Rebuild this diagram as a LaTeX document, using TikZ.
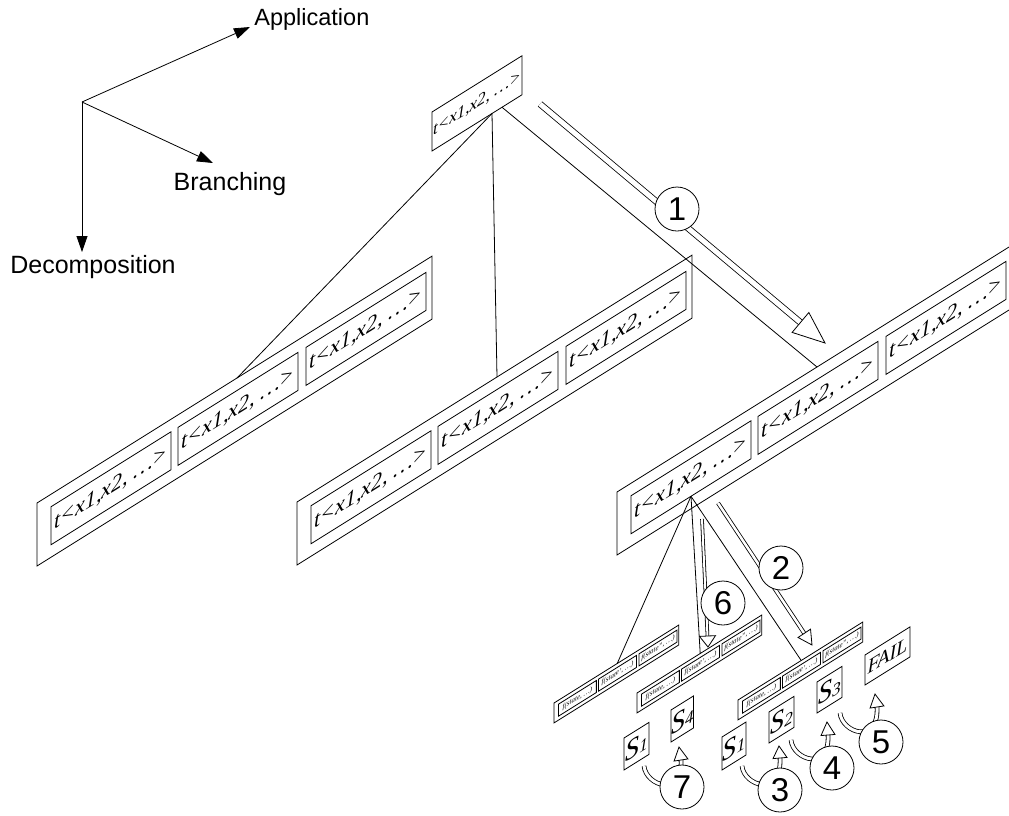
\documentclass[tikz,border=0pt]{standalone}
\usepackage{fontspec}
\setmainfont{Liberation Serif}
\newfontfamily\sansf{Liberation Sans}
\usetikzlibrary{calc,arrows.meta}

% a slanted strip of three cells: name, x, y, scale, font size, three texts
\newcommand\strip[8]{%
  \begin{scope}[shift={(#2,#3)}, scale=#4, yslant=0.625]
    \draw (0,0) rectangle (395,63);
    \node[cell, minimum width=120pt, minimum height=38pt, font=\itshape\fontsize{#5}{#5}\selectfont] (#1-1) at (14,12.5) {#6};
    \node[cell, minimum width=120pt, minimum height=38pt, font=\itshape\fontsize{#5}{#5}\selectfont] (#1-2) at (141,12.5) {#7};
    \node[cell, minimum width=120pt, minimum height=38pt, font=\itshape\fontsize{#5}{#5}\selectfont] (#1-3) at (269,12.5) {#8};
    \coordinate (#1-top) at (200,0);
  \end{scope}}

% a single slanted box: name, x, y, width, height, content
\newcommand\slbox[6]{%
  \begin{scope}[shift={(#2,#3)}, yslant=0.625]
    \node[cell, minimum width=#4pt, minimum height=#5pt] (#1) at (0,0) {#6};
  \end{scope}}

\newcommand\stt[1]{{\fontsize{28}{28}\selectfont S}{\fontsize{17}{17}\selectfont #1}}

% hollow straight arrow: start, tip, gap, head length, head half width
\newcommand\harrow[5]{%
  \draw[double, double distance=#3] (#1) -- ($(#2)!#4!(#1)$);
  \draw[fill=white, line join=miter] ($(#2)!#4!(#1)!#5!90:(#1)$) -- (#2) -- ($(#2)!#4!(#1)!#5!-90:(#1)$) -- cycle;}

% hollow curved arrow: start, control 1, control 2, head base, tip
\newcommand\carrow[5]{%
  \draw[double, double distance=3pt] (#1) .. controls (#2) and (#3) .. (#4);
  \draw[fill=white, line join=miter] ($(#4)!7pt!90:(#5)$) -- (#5) -- ($(#4)!7pt!-90:(#5)$) -- cycle;}

\begin{document}
\begin{tikzpicture}[x=1pt, y=-1pt, line width=0.8pt,
  cell/.style={draw, inner sep=0pt, outer sep=0pt, anchor=north west, transform shape,
               font=\itshape\fontsize{21}{21}\selectfont},
  circ/.style={circle, draw, fill=white, minimum size=44pt, inner sep=0pt,
               font=\sansf\fontsize{33}{33}\selectfont},
  lab/.style={font=\sansf\fontsize{25}{25}\selectfont, inner sep=0pt},
  axis/.style={-{Triangle[length=16pt, width=11pt]}}]

\useasboundingbox (0,0) rectangle (1009,815);

% axes
\coordinate (o) at (82,102);
\coordinate (oa) at (250,27);
\coordinate (ob) at (213,163);
\coordinate (od) at (82,252);
\draw[axis] (o) -- (oa);
\draw[axis] (o) -- (ob);
\draw[axis] (o) -- (od);
\node[lab, anchor=west, font=\sansf\fontsize{23.5}{23.5}\selectfont] (la) at (254,19) {Application};
\node[lab] (lb) at (230,184) {Branching};
\node[lab] (ld) at (93,267) {Decomposition};

% root cell
\begin{scope}[shift={(432,112)}, yslant=0.625]
  \node[cell, minimum width=90pt, minimum height=39pt, font=\itshape\fontsize{17}{17}\selectfont] (root) at (0,0) {t<x1,x2, …>};
  \coordinate (root-a) at (60,39);
  \coordinate (root-b) at (70,39);
\end{scope}

% first level strips
\strip{L}{37}{503}{1}{22}{t<x1,x2, …>}{t<x1,x2, …>}{t<x1,x2, …>}
\strip{M}{297}{502}{1}{22}{t<x1,x2, …>}{t<x1,x2, …>}{t<x1,x2, …>}
\strip{R}{617}{492}{1}{22}{t<x1,x2, …>}{t<x1,x2, …>}{t<x1,x2, …>}

\draw (root-a) -- (L-top);
\draw (root-a) -- (M-top);
\draw (root-b) -- (R-top);

% second level strips
\strip{a}{554}{703}{0.316}{22}{f(state, …)}{f(state', …)}{f(state'', …)}
\strip{b}{637}{693}{0.316}{22}{f(state, …)}{f(state', …)}{f(state'', …)}
\strip{c}{738}{700}{0.316}{22}{f(state, …)}{f(state', …)}{f(state'', …)}

\draw (R-1.south) -- (a-top);
\draw (R-1.south) -- (b-top);
\draw (R-1.south) -- (c-top);

% states
\slbox{s1a}{624}{738}{25}{32}{\stt{1}}
\slbox{s4}{671}{710}{22}{32}{\stt{4}}
\slbox{s1b}{722}{737}{24}{33}{\stt{1}}
\slbox{s2}{769}{712}{25}{31}{\stt{2}}
\slbox{s3}{817}{682}{25}{31}{\stt{3}}
\slbox{fail}{865}{655}{45}{30}{\fontsize{20}{20}\selectfont FAIL}

% straight hollow arrows
\coordinate (p1s) at (540,104); \coordinate (p1e) at (825,343);
\coordinate (p2s) at (718,503); \coordinate (p2e) at (812,645);
\coordinate (p6s) at (702,519); \coordinate (p6e) at (708,647);
\harrow{p1s}{p1e}{5pt}{32pt}{13pt}
\harrow{p2s}{p2e}{2.5pt}{14pt}{7.5pt}
\harrow{p6s}{p6e}{2pt}{11pt}{8pt}

% curved hollow arrows
\carrow{742,766}{744,786}{782,798}{780,758}{779,746}
\carrow{791,740}{793,760}{830,772}{828,735}{827,722}
\carrow{840,713}{842,733}{879,745}{877,707}{875,694}
\carrow{644,766}{646,786}{683,798}{681,760}{679,747}

% step numbers
\node[circ] (n1) at (677,209) {1};
\node[circ] (n2) at (781,568) {2};
\node[circ] (n6) at (723,603) {6};
\node[circ] (n3) at (780,790) {3};
\node[circ] (n4) at (832,768) {4};
\node[circ] (n5) at (881,742) {5};
\node[circ] (n7) at (682,787) {7};
\end{tikzpicture}
\end{document}
